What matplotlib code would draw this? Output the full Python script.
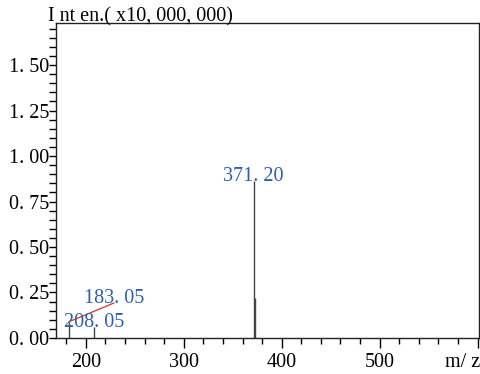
import matplotlib
matplotlib.use("Agg")
import matplotlib.pyplot as plt
from matplotlib.ticker import MultipleLocator, FixedLocator

# Peak list (m/z, intensity in units of 10,000,000)
mz = [183.05, 208.05, 371.20, 372.20]
intensity = [0.09, 0.06, 0.86, 0.22]
peak_labels = ["183. 05", "208. 05", "371. 20", None]

y_ticks = [0.00, 0.25, 0.50, 0.75, 1.00, 1.25, 1.50]
y_tick_labels = ["0. 00", "0. 25", "0. 50", "0. 75", "1. 00", "1. 25", "1. 50"]
x_ticks = [200, 300, 400, 500, 600]
x_tick_labels = ["200", "300", "400", "500", ""]

plt.rcParams["font.family"] = ["Liberation Serif", "DejaVu Serif"]
FS = 14.5

fig = plt.figure(figsize=(4.8, 3.74), dpi=100)
ax = fig.add_axes([0.1167, 0.0963, 0.997 - 0.1167, 0.939 - 0.0963])

ax.vlines(mz, 0, intensity, color="#444444", linewidth=1.0)

ax.set_xlim(169.5, 601)
ax.set_ylim(0, 1.732)

ax.xaxis.set_major_locator(FixedLocator(x_ticks))
ax.set_xticklabels(x_tick_labels)
ax.xaxis.set_minor_locator(MultipleLocator(20))
ax.yaxis.set_major_locator(FixedLocator(y_ticks))
ax.set_yticklabels(y_tick_labels)
ax.yaxis.set_minor_locator(MultipleLocator(0.05))

ax.tick_params(axis="x", which="major", length=7.5, width=1.0, labelsize=FS, pad=3)
ax.tick_params(axis="x", which="minor", length=4, width=1.0)
ax.tick_params(axis="y", which="both", length=5, width=1.0, labelsize=FS, pad=0)
for s in ax.spines.values():
    s.set_linewidth(1.0)
    s.set_color("#222222")

label_color = "#2f5faa"
# 371.20 and 208.05 sit directly above their peaks
ax.annotate(peak_labels[2], (mz[2], intensity[2]), xytext=(0, 0.5),
            textcoords="offset points", ha="center", va="baseline",
            color=label_color, fontsize=FS)
ax.annotate(peak_labels[1], (mz[1], intensity[1]), xytext=(0, 0),
            textcoords="offset points", ha="center", va="baseline",
            color=label_color, fontsize=FS)
# 183.05 is displaced and tied back to its peak with a red leader line
label_pos = (228.5, 0.192)
ax.plot([mz[0], label_pos[0]], [intensity[0], label_pos[1]],
        color="#e03030", linewidth=0.9, zorder=1)
ax.text(label_pos[0], label_pos[1], peak_labels[0], ha="center",
        va="baseline", color=label_color, fontsize=FS, zorder=3)

fig.text(48 / 480, 1 - 21 / 374, "I nt en.( x10, 000, 000)", ha="left",
         va="baseline", fontsize=FS)
fig.text(1.0, 1 - 367 / 374, "m/ z", ha="right", va="baseline", fontsize=FS)

fig.savefig("out.png", dpi=100)
